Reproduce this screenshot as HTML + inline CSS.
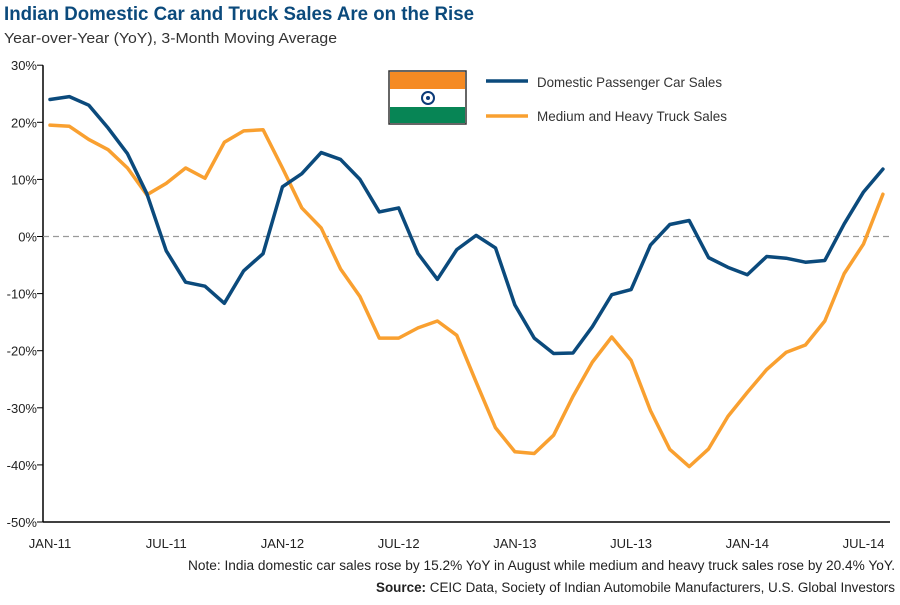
<!DOCTYPE html>
<html><head><meta charset="utf-8"><style>
body{margin:0;background:#fff;font-family:"Liberation Sans",sans-serif;}
svg text{font-family:"Liberation Sans",sans-serif;}
</style></head><body>
<svg width="900" height="600" id="c">
<text x="4" y="20" font-size="19" font-weight="bold" fill="#0b4a7c" textLength="470" lengthAdjust="spacingAndGlyphs">Indian Domestic Car and Truck Sales Are on the Rise</text>
<text x="4" y="43" font-size="15" fill="#333" textLength="333" lengthAdjust="spacingAndGlyphs">Year-over-Year (YoY), 3-Month Moving Average</text>
<g id="axes"></g>
<g>
<g>
<rect x="389" y="71" width="77" height="53" fill="#fff" stroke="#333" stroke-width="1.5"/>
<rect x="390" y="72" width="75" height="17" fill="#f58a23"/>
<rect x="390" y="107" width="75" height="16" fill="#078555"/>
<circle cx="428" cy="98" r="6" fill="none" stroke="#0b3a78" stroke-width="2"/>
<circle cx="428" cy="98" r="2" fill="#0b3a78"/>
</g>
<line x1="486" y1="81" x2="528" y2="81" stroke="#0b4a7c" stroke-width="3.5"/>
<text x="537" y="87" font-size="14" fill="#333" textLength="185" lengthAdjust="spacingAndGlyphs">Domestic Passenger Car Sales</text>
<line x1="486" y1="116" x2="528" y2="116" stroke="#f9a030" stroke-width="3.5"/>
<text x="537" y="121" font-size="14" fill="#333" textLength="190" lengthAdjust="spacingAndGlyphs">Medium and Heavy Truck Sales</text>
</g>
<g id="series"></g>
<text x="895" y="570" font-size="13.5" fill="#222" text-anchor="end" textLength="707" lengthAdjust="spacingAndGlyphs">Note: India domestic car sales rose by 15.2% YoY in August while medium and heavy truck sales rose by 20.4% YoY.</text>
<text x="895" y="592" font-size="13.5" fill="#222" text-anchor="end" textLength="519" lengthAdjust="spacingAndGlyphs"><tspan font-weight="bold">Source:</tspan> CEIC Data, Society of Indian Automobile Manufacturers, U.S. Global Investors</text>
</svg>
<script>
const carSales=[24,24.5,23,19,14.5,7.5,-2.5,-8,-8.7,-11.7,-6,-3,8.7,11,14.7,13.5,10,4.3,5,-3,-7.5,-2.3,0.2,-2,-12,-17.8,-20.5,-20.4,-15.8,-10.2,-9.3,-1.5,2.1,2.8,-3.7,-5.4,-6.7,-3.5,-3.8,-4.5,-4.2,2.2,7.8,11.8];
const truckSales=[19.5,19.3,17,15.2,12,7.3,9.3,12,10.2,16.5,18.5,18.7,12,5,1.5,-5.7,-10.5,-17.8,-17.8,-16,-14.8,-17.3,-25.5,-33.5,-37.7,-38,-34.8,-28,-22,-17.6,-21.7,-30.5,-37.3,-40.3,-37.2,-31.5,-27.3,-23.3,-20.3,-19,-14.8,-6.5,-1.3,7.4];
const yTicks=[30,20,10,0,-10,-20,-30,-40,-50];
const xLabels=["JAN-11","JUL-11","JAN-12","JUL-12","JAN-13","JUL-13","JAN-14","JUL-14"];
const xLabelIdx=[0,6,12,18,24,30,36,42];
const NS="http://www.w3.org/2000/svg";
const x=i=>50+i*19.37;
const y=v=>236.5-v*5.71;
const ax=document.getElementById('axes'),se=document.getElementById('series');
function mk(t,a,p){const e=document.createElementNS(NS,t);for(const k in a)e.setAttribute(k,a[k]);p.appendChild(e);return e;}
let l=mk('line',{x1:43,y1:y(30),x2:43,y2:y(-50),stroke:'#000','stroke-width':1.5},ax);


l=mk('line',{x1:43,y1:y(-50),x2:890,y2:y(-50),stroke:'#000','stroke-width':1.5},ax);


l=mk('line',{x1:43,y1:y(0),x2:890,y2:y(0),stroke:'#999','stroke-width':1.3,'stroke-dasharray':'6,4'},ax);


yTicks.forEach(v=>{
 mk('line',{x1:37,y1:y(v),x2:43,y2:y(v),stroke:'#000','stroke-width':1},ax);
 const t=mk('text',{x:37,y:y(v)+5,'font-size':13,'text-anchor':'end',fill:'#222'},ax);
 t.textContent=v+'%';
 
 
});
xLabels.forEach((s,k)=>{
 const t=mk('text',{x:x(xLabelIdx[k]),y:548,'font-size':13,'text-anchor':'middle',fill:'#222'},ax);
 t.textContent=s;
 
 
});
function line(d,c,n){
 const p=mk('polyline',{points:d.map((v,i)=>x(i)+','+y(v)).join(' '),fill:'none',stroke:c,'stroke-width':3.5,'stroke-linejoin':'round','stroke-linecap':'round'},se);
 
 
}
line(truckSales,'#f9a030','truck-sales-line');
line(carSales,'#0b4a7c','car-sales-line');
</script>
</body></html>
